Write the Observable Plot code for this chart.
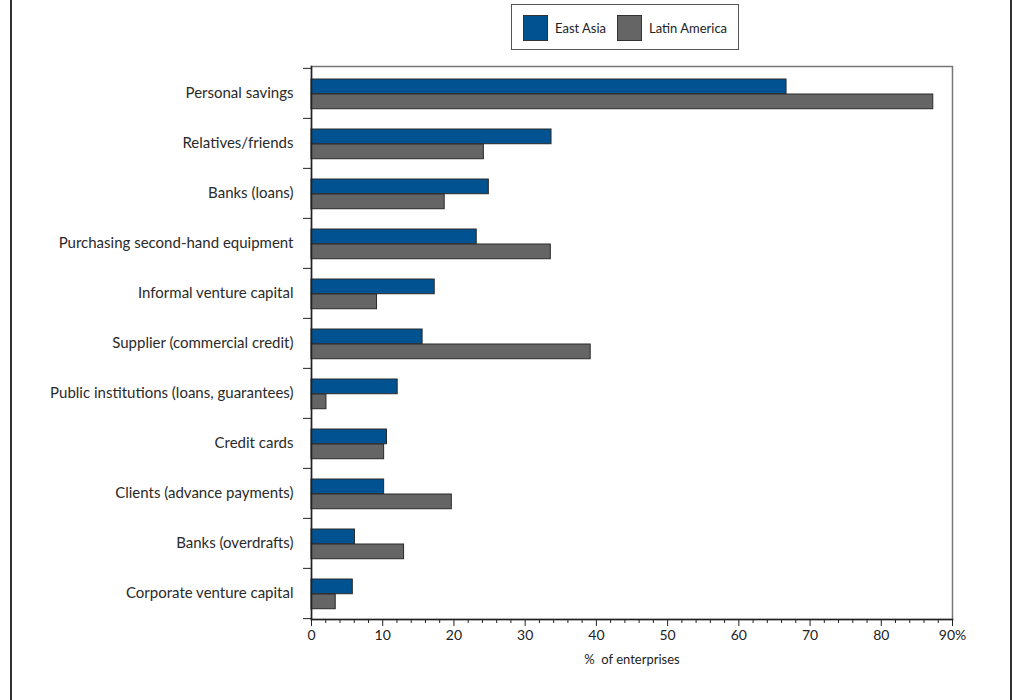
<!DOCTYPE html>
<html>
<head>
<meta charset="utf-8">
<script src="https://cdn.jsdelivr.net/npm/d3@7"></script>
<script src="https://cdn.jsdelivr.net/npm/@observablehq/plot@0.6"></script>
<style>
  html, body { margin: 0; padding: 0; background: #fff; }
  #wrap { position: relative; width: 1016px; height: 700px; font-family: Lato, "Open Sans", sans-serif; color: #222; }
  .vline { position: absolute; top: 0; width: 2px; height: 700px; background: #333; }
  #legend { position: absolute; left: 511px; top: 4px; width: 226px; height: 44px; border: 1.5px solid #555; box-sizing: content-box; }
  .item { position: absolute; top: 10px; display: flex; align-items: center; font-size: 13px; }
  .sw { width: 23px; height: 24px; border: 1px solid #333; margin-right: 7px; }
  #chart { position: absolute; left: 0; top: 55px; }
</style>
</head>
<body>
<div id="wrap">
  <div class="vline" style="left:10px"></div>
  <div class="vline" style="left:1010px"></div>
  <div id="legend"></div>
  <div id="chart"></div>
</div>
<script>
const categories = [
  "Personal savings",
  "Relatives/friends",
  "Banks (loans)",
  "Purchasing second-hand equipment",
  "Informal venture capital",
  "Supplier (commercial credit)",
  "Public institutions (loans, guarantees)",
  "Credit cards",
  "Clients (advance payments)",
  "Banks (overdrafts)",
  "Corporate venture capital"
];
const series = ["East Asia", "Latin America"];
const eastAsia     = [66.7, 33.7, 24.9, 23.2, 17.3, 15.6, 12.1, 10.6, 10.2, 6.1, 5.8];
const latinAmerica = [87.3, 24.2, 18.7, 33.6,  9.2, 39.2,  2.1, 10.2, 19.7, 13.0, 3.4];
const colors = ["#005291", "#656565"];
const xMajor = d3.range(0, 91, 10);
const xMinor = d3.range(0, 91, 2).filter(d => d % 10 !== 0);

const rows = [];
categories.forEach((c, i) => {
  rows.push({category: c, series: series[0], value: eastAsia[i]});
  rows.push({category: c, series: series[1], value: latinAmerica[i]});
});

// legend
const legend = document.getElementById("legend");
const lx = [11, 105];
series.forEach((s, i) => {
  const it = document.createElement("div");
  it.className = "item";
  it.style.left = lx[i] + "px";
  it.innerHTML = `<div class="sw" style="background:${colors[i]}"></div><span>${s}</span>`;
  legend.appendChild(it);
});

const marginTop = 11, marginBottom = 60, plotH = 553;
const height = marginTop + plotH + marginBottom;
const bw = plotH / categories.length;

const chart = Plot.plot({
  width: 1016,
  height,
  marginLeft: 311,
  marginRight: 64,
  marginTop,
  marginBottom,
  style: {fontFamily: "Lato, 'Open Sans', sans-serif", fontSize: "14px", color: "#222"},
  x: {domain: [0, 90]},
  y: {domain: categories, padding: 0},
  marks: [
    Plot.frame({stroke: "#777", strokeWidth: 1.5}),
    Plot.barX(rows.filter(d => d.series === series[0]), {
      x: "value", y: "category", fill: colors[0], stroke: "#2a2a2a", strokeWidth: 1,
      insetTop: 11, insetBottom: bw - 26
    }),
    Plot.barX(rows.filter(d => d.series === series[1]), {
      x: "value", y: "category", fill: colors[1], stroke: "#2a2a2a", strokeWidth: 1,
      insetTop: 26, insetBottom: bw - 41
    }),
    Plot.frame({anchor: "left", stroke: "#222", strokeWidth: 1.5}),
    Plot.frame({anchor: "bottom", stroke: "#222", strokeWidth: 1.5}),
    Plot.axisY({tickSize: 0, tickPadding: 18, fontSize: 15, label: null, fill: "#2a2a2a"}),
    Plot.axisY(categories, {tickSize: 8, tickFormat: () => "", dy: -bw / 2, label: null, stroke: "#222"}),
    Plot.axisY(categories.slice(-1), {tickSize: 8, tickFormat: () => "", dy: bw / 2, label: null, stroke: "#222"}),
    Plot.axisX(xMajor, {tickSize: 7, tickPadding: 4, fontSize: 14, label: null, stroke: "#222",
      tickFormat: d => d === 90 ? "90%" : String(d)}),
    Plot.axisX(xMinor, {tickSize: 4, tickFormat: () => "", label: null, stroke: "#222"}),
    Plot.text(["%\u00a0 of enterprises"], {frameAnchor: "bottom", dy: 44, fontSize: 13, fill: "#222"})
  ]
});
document.getElementById("chart").appendChild(chart);
</script>
</body>
</html>
